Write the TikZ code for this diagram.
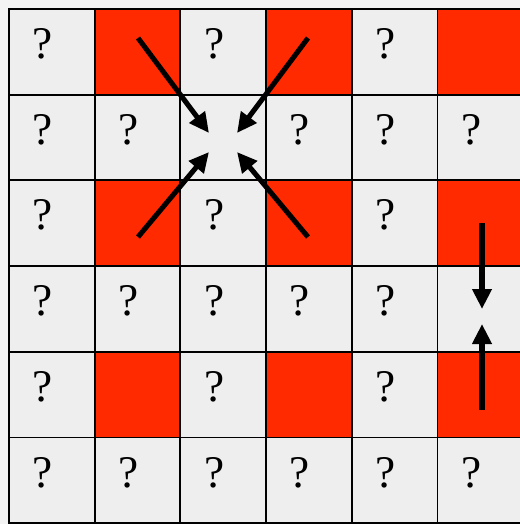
\documentclass[tikz,border=0pt]{standalone}
\usepackage{fontspec}
\setmainfont{Liberation Serif}
\usetikzlibrary{arrows.meta}
\definecolor{paper}{HTML}{F3F3F3}
\definecolor{cellbg}{HTML}{EEEEEE}
\definecolor{hot}{HTML}{FF2A00}
\tikzset{
  cellbox/.style={draw=none, minimum width=64.3pt, minimum height=64.3pt, inner sep=0pt, outer sep=0pt, fill=cellbg},
  hotbox/.style={cellbox, fill=hot},
  gridline/.style={line width=1.4pt, line cap=rect},
  qmark/.style={font=\fontsize{34}{38}\selectfont, inner sep=0pt, xshift=-6.75pt, yshift=6pt},
  push/.style={line width=3.8pt, -{Triangle[length=15pt,width=14pt]}}
}
\begin{document}
\begin{tikzpicture}[x=0.75pt,y=-0.75pt]
\useasboundingbox (0,0) rectangle (520,524);
\fill[paper] (0,0) rectangle (520,524);
\foreach \r in {0,...,5}{
  \foreach \c in {0,...,5}{
    \pgfmathsetmacro{\cx}{9+85.7*\c+42.85}
    \pgfmathsetmacro{\cy}{9+85.7*\r+42.85}
    \pgfmathtruncatemacro{\odd}{mod(\r,2)==0 && mod(\c,2)==1}
    \ifnum\odd=1
      \node[hotbox] (cell-\r-\c) at (\cx,\cy) {};
    \else
      \node[cellbox] (cell-\r-\c) at (\cx,\cy) {};
    \fi
  }
}
% grid lines
\foreach \i in {0,...,6}{
  \draw[gridline] (9+85.7*\i,9) -- (9+85.7*\i,523.2);
  \draw[gridline] (9,9+85.7*\i) -- (523.2,9+85.7*\i);
}
% question marks
\foreach \r/\c in {0/0,0/2,0/4,1/0,1/1,1/3,1/4,1/5,2/0,2/2,2/4,3/0,3/1,3/2,3/3,3/4,4/0,4/2,4/4,5/0,5/1,5/2,5/3,5/4,5/5}{
  \node[qmark] (q-\r-\c) at (cell-\r-\c) {?};
}
% arrows toward cell (1,2)
\coordinate (a1s) at (138,38);
\coordinate (a1e) at (209,133);
\coordinate (a2s) at (308,38);
\coordinate (a2e) at (237,133);
\coordinate (a3s) at (138,237);
\coordinate (a3e) at (209,152);
\coordinate (a4s) at (308,237);
\coordinate (a4e) at (237,152);
\draw[push] (a1s) -- (a1e);
\draw[push] (a2s) -- (a2e);
\draw[push] (a3s) -- (a3e);
\draw[push] (a4s) -- (a4e);
% arrows toward cell (3,5)
\coordinate (b1s) at (482,223);
\coordinate (b1e) at (482,309);
\coordinate (b2s) at (482,410);
\coordinate (b2e) at (482,324);
\draw[push] (b1s) -- (b1e);
\draw[push] (b2s) -- (b2e);
\end{tikzpicture}
\end{document}
